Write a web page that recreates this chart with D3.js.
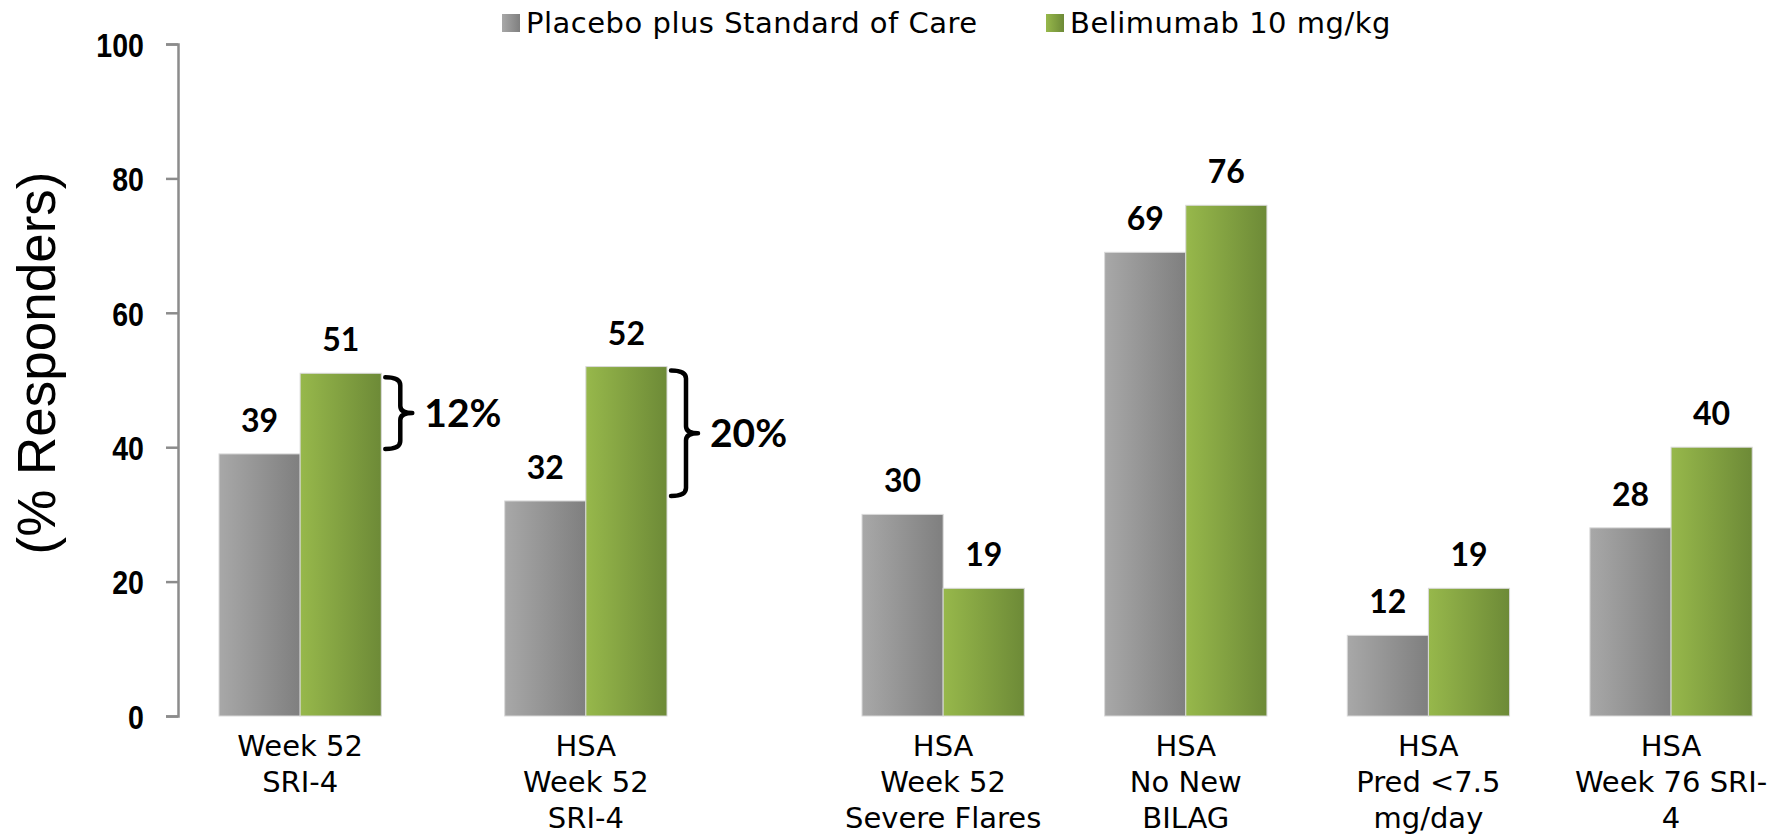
<!DOCTYPE html>
<html>
<head>
<meta charset="utf-8">
<script src="https://cdn.jsdelivr.net/npm/d3@7"></script>
<style>
    body { margin: 0; background: #fff; }
    .tick-label { font-family: "Liberation Sans", Arial, sans-serif; font-weight: bold; font-size: 34px; }
    .cat-label { font-family: "DejaVu Sans", Verdana, sans-serif; font-size: 29px; fill: #000; }
    .legend-label { font-family: "DejaVu Sans", Verdana, sans-serif; font-size: 29px; letter-spacing: 0.5px; fill: #000; }
    .value-label { font-family: Lato, "Open Sans", sans-serif; font-weight: bold; font-size: 32px; fill: #000; }
    .diff-label { font-family: Lato, "Open Sans", sans-serif; font-weight: bold; font-size: 39px; fill: #000; }
    .brace { fill: none; stroke: #000; stroke-width: 4.5; stroke-linecap: round; stroke-linejoin: round; }
</style>
</head>
<body>
<svg></svg>
<script>
// chart data
var categories = ["Week 52 SRI-4", "HSA Week 52 SRI-4", "HSA Week 52 Severe Flares",
                  "HSA No New BILAG", "HSA Pred <7.5 mg/day", "HSA Week 76 SRI-4"];
var categoryLines = [["Week 52", "SRI-4"],
                     ["HSA", "Week 52", "SRI-4"],
                     ["HSA", "Week 52", "Severe Flares"],
                     ["HSA", "No New", "BILAG"],
                     ["HSA", "Pred <7.5", "mg/day"],
                     ["HSA", "Week 76 SRI-", "4"]];
var seriesNames = ["Placebo plus Standard of Care", "Belimumab 10 mg/kg"];
var placebo = [39, 32, 30, 69, 12, 28];
var belimumab = [51, 52, 19, 76, 19, 40];
var yTicks = [0, 20, 40, 60, 80, 100];
var diffCategories = ["Week 52 SRI-4", "HSA Week 52 SRI-4"];
var diffLabels = ["12%", "20%"];

window.onload = function () {

    var width = 1791;
    var height = 834;
    var svg = d3.select("svg")
        .attr("width", width)
        .attr("height", height);

    // gradients for the bars
    var defs = svg.append("defs");
    var gradients = [
        {id: "grad0", from: "#a8a8a8", to: "#7f7f7f"},
        {id: "grad1", from: "#97b84b", to: "#6d8a37"}
    ];
    gradients.forEach(function (g) {
        var lg = defs.append("linearGradient")
            .attr("id", g.id)
            .attr("x1", 0).attr("y1", 0)
            .attr("x2", 1).attr("y2", 0);
        lg.append("stop").attr("offset", "0%").attr("stop-color", g.from);
        lg.append("stop").attr("offset", "100%").attr("stop-color", g.to);
    });

    // y scale
    var yScale = d3.scaleLinear()
        .domain([0, 100])
        .range([716, 44]);

    // the slide is made of two panels, so two band scales
    var leftCats = categories.slice(0, 2);
    var rightCats = categories.slice(2);

    var xLeft = d3.scaleBand()
        .domain(leftCats)
        .range([219, 667])
        .paddingInner(0.432)
        .paddingOuter(0);

    var xRight = d3.scaleBand()
        .domain(rightCats)
        .range([862, 1752])
        .paddingInner(0.332)
        .paddingOuter(0);

    var xGroup = function (c) {
        return leftCats.indexOf(c) >= 0 ? xLeft(c) : xRight(c);
    };

    var xSeries = d3.scaleBand()
        .domain([0, 1])
        .range([0, xLeft.bandwidth()]);

    var rows = categories.map(function (c, i) {
        return {cat: c, lines: categoryLines[i], values: [placebo[i], belimumab[i]]};
    });

    // y axis
    var yAxis = d3.axisLeft(yScale)
        .tickValues(yTicks)
        .tickSize(12)
        .tickSizeOuter(12)
        .tickPadding(22);

    var axisG = svg.append("g")
        .attr("transform", "translate(178,0)")
        .call(yAxis);
    axisG.select(".domain").attr("stroke", "#8c8c8c").attr("stroke-width", 2.5);
    axisG.selectAll(".tick line").attr("stroke", "#8c8c8c").attr("stroke-width", 2.5);
    // condensed look for the tick numbers
    axisG.selectAll(".tick text")
        .attr("class", "tick-label")
        .attr("fill", "#000")
        .attr("x", 0)
        .attr("dy", "0.36em")
        .attr("transform", "translate(-34,0) scale(0.84,1)");

    // y axis title
    svg.append("text")
        .attr("transform", "translate(55,363) rotate(-90)")
        .attr("text-anchor", "middle")
        .style("font-family", "'Liberation Sans', Arial, sans-serif")
        .style("font-size", "53px")
        .text("(% Responders)");

    // bars
    var groups = svg.selectAll(".group")
        .data(rows)
        .enter()
        .append("g")
        .attr("class", "group")
        .attr("transform", function (d) { return "translate(" + xGroup(d.cat) + ",0)"; });

    groups.selectAll("rect")
        .data(function (d) { return d.values; })
        .enter()
        .append("rect")
        .attr("x", function (v, i) { return xSeries(i); })
        .attr("y", function (v) { return yScale(v); })
        .attr("width", xSeries.bandwidth())
        .attr("height", function (v) { return yScale(0) - yScale(v); })
        .attr("fill", function (v, i) { return "url(#grad" + i + ")"; })
        .attr("stroke", "#d9d9d9")
        .attr("stroke-width", 1);

    // value labels
    groups.selectAll(".value-label")
        .data(function (d) { return d.values; })
        .enter()
        .append("text")
        .attr("class", "value-label")
        .attr("text-anchor", "middle")
        .attr("x", function (v, i) { return xSeries(i) + xSeries.bandwidth() / 2; })
        .attr("y", function (v) { return yScale(v) - 22; })
        .text(function (v) { return v; });

    // category labels
    groups.append("text")
        .attr("class", "cat-label")
        .attr("text-anchor", "middle")
        .selectAll("tspan")
        .data(function (d) { return d.lines; })
        .enter()
        .append("tspan")
        .attr("x", xLeft.bandwidth() / 2)
        .attr("y", function (l, i) { return 756 + i * 36; })
        .text(function (l) { return l; });

    // difference braces
    diffCategories.forEach(function (c, k) {
        var i = categories.indexOf(c);
        var x0 = xGroup(c) + xLeft.bandwidth() + 4;
        var y1 = yScale(belimumab[i]) + 4;
        var y2 = yScale(placebo[i]) - 5;
        var ym = (y1 + y2) / 2;
        var w = 15;
        var nub = 12;
        var p = d3.path();
        p.moveTo(x0, y1);
        p.quadraticCurveTo(x0 + w, y1, x0 + w, y1 + 8);
        p.lineTo(x0 + w, ym - 7);
        p.quadraticCurveTo(x0 + w, ym, x0 + w + nub, ym);
        p.moveTo(x0 + w + nub, ym);
        p.quadraticCurveTo(x0 + w, ym, x0 + w, ym + 7);
        p.lineTo(x0 + w, y2 - 8);
        p.quadraticCurveTo(x0 + w, y2, x0, y2);
        svg.append("path")
            .attr("class", "brace")
            .attr("d", p.toString());
        svg.append("text")
            .attr("class", "diff-label")
            .attr("x", x0 + w + nub + 12)
            .attr("y", ym + 14)
            .text(diffLabels[k]);
    });

    // legend
    var legendX = [502, 1046];
    seriesNames.forEach(function (name, i) {
        svg.append("rect")
            .attr("x", legendX[i])
            .attr("y", 14)
            .attr("width", 18)
            .attr("height", 18)
            .attr("fill", "url(#grad" + i + ")");
        svg.append("text")
            .attr("class", "legend-label")
            .attr("x", legendX[i] + 24)
            .attr("y", 33)
            .text(name);
    });
};
</script>
</body>
</html>
